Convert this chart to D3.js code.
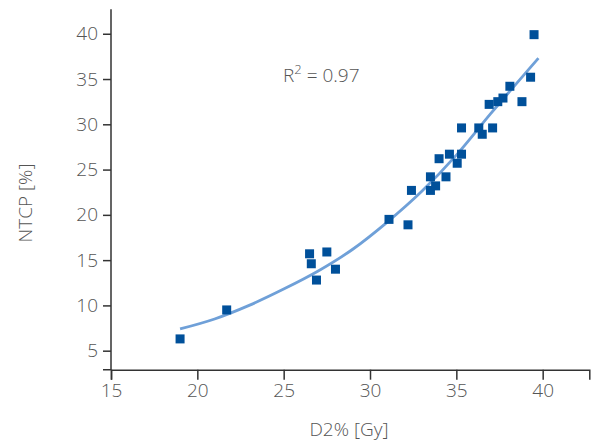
<!DOCTYPE html>
<html>
<head>
<meta charset="utf-8">
<script src="https://cdn.jsdelivr.net/npm/d3@7"></script>
<style>
  body { margin: 0; background: #fff; }
  text { font-family: "Open Sans", sans-serif; font-weight: 300; fill: #555; }
</style>
</head>
<body>
<div class="chart"></div>
<script>
// measured points: D2% [Gy] vs NTCP [%]
const d2 = [19.0, 21.7, 26.5, 26.6, 27.5, 26.9, 28.0, 31.1, 32.2,
            32.4, 33.5, 33.5, 33.8, 34.0, 34.4, 34.6, 35.05, 35.3, 35.3,
            36.3, 36.5, 37.1, 36.9, 37.4, 37.7, 38.1, 38.8, 39.3, 39.5];
const ntcp = [6.3, 9.5, 15.7, 14.6, 15.9, 12.8, 14.0, 19.5, 18.9,
              22.7, 24.2, 22.7, 23.2, 26.2, 24.2, 26.7, 25.7, 26.7, 29.6,
              29.6, 28.9, 29.6, 32.2, 32.5, 32.9, 34.2, 32.5, 35.2, 39.9];

// fitted curve
const fitX = [19, 21, 23, 25, 27, 29, 31, 33, 35, 37, 39.75];
const fitY = [7.4, 8.5, 10.0, 11.8, 13.8, 16.2, 19.2, 22.6, 26.6, 31.2, 37.3];

const xTicks = [15, 20, 25, 30, 35, 40];
const yTicks = [5, 10, 15, 20, 25, 30, 35, 40];

const width = 591, height = 446;
const margin = { top: 9.3, right: 1.7, bottom: 76.3, left: 111 };
const innerW = width - margin.left - margin.right;
const innerH = height - margin.top - margin.bottom;

const svg = d3.select('.chart').append('svg')
    .attr('width', width)
    .attr('height', height);

const x = d3.scaleLinear().domain([15, 42.7]).range([0, innerW]);
const y = d3.scaleLinear().domain([2.9, 42.7]).range([innerH, 0]);

const g = svg.append('g')
    .attr('transform', `translate(${margin.left}, ${margin.top})`);

// x axis
const xAxis = g.append('g')
    .attr('transform', `translate(0, ${innerH})`)
    .call(d3.axisBottom(x).tickValues(xTicks).tickSize(10).tickSizeOuter(10).tickPadding(4));

// y axis (outer tick only at the bottom, drawn by hand)
const yAxis = g.append('g')
    .call(d3.axisLeft(y).tickValues(yTicks).tickSize(8).tickSizeOuter(0).tickPadding(5));
yAxis.select('.domain')
    .attr('d', `M-8,${innerH}H0V0`);

[xAxis, yAxis].forEach(a => {
    a.select('.domain').attr('stroke', '#333').attr('stroke-width', 1.5).attr('fill', 'none');
    a.selectAll('.tick line').attr('stroke', '#333').attr('stroke-width', 1.5);
    a.selectAll('.tick text')
        .style('font-family', '"Open Sans", sans-serif')
        .style('font-weight', 300)
        .style('font-size', '19px')
        .attr('fill', '#555');
});

// fit line
const fit = fitX.map((v, i) => [v, fitY[i]]);
g.append('path')
    .datum(fit)
    .attr('fill', 'none')
    .attr('stroke', '#6fa0d8')
    .attr('stroke-width', 2.8)
    .attr('d', d3.line()
        .x(d => x(d[0]))
        .y(d => y(d[1]))
        .curve(d3.curveMonotoneX));

// markers
const s = 9;
g.selectAll('.pt')
    .data(d2.map((v, i) => ({ x: v, y: ntcp[i] })))
    .enter()
    .append('rect')
    .attr('class', 'pt')
    .attr('x', d => x(d.x) - s / 2)
    .attr('y', d => y(d.y) - s / 2)
    .attr('width', s)
    .attr('height', s)
    .attr('fill', '#00509a');

// R² annotation
const r2 = svg.append('text')
    .attr('x', 283)
    .attr('y', 81.5)
    .style('font-size', '19px');
r2.append('tspan').text('R');
r2.append('tspan').attr('dy', -8).style('font-size', '13px').text('2');
r2.append('tspan').attr('dy', 8).text(' = 0.97');

// axis titles
svg.append('text')
    .attr('x', 349)
    .attr('y', 436)
    .attr('text-anchor', 'middle')
    .style('font-size', '19px')
    .text('D2% [Gy]');

svg.append('text')
    .attr('transform', 'translate(32, 203) rotate(-90)')
    .attr('text-anchor', 'middle')
    .style('font-size', '19px')
    .text('NTCP [%]');
</script>
</body>
</html>
